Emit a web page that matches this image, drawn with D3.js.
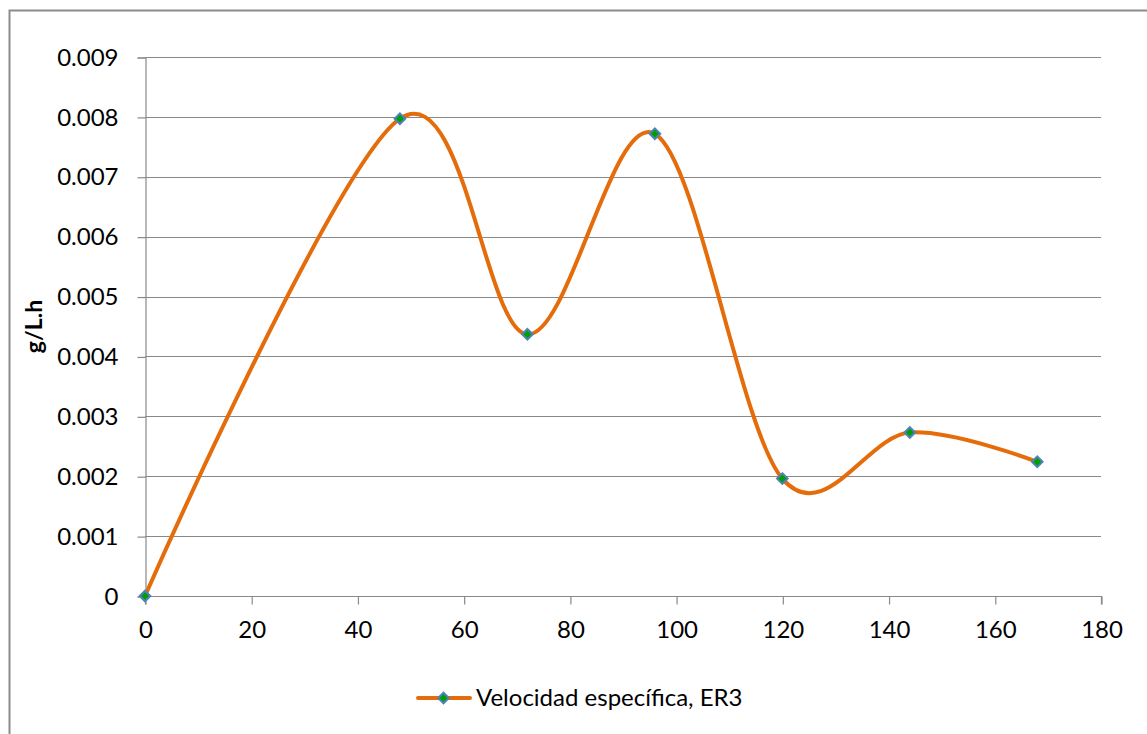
<!DOCTYPE html>
<html>
<head>
<meta charset="utf-8">
<script src="https://cdn.jsdelivr.net/npm/d3@7"></script>
<style>
  body { margin: 0; background: #fff; }
  svg { display: block; font-family: Lato, "Open Sans", sans-serif; }
</style>
</head>
<body>
<svg id="chart" width="1147" height="734"></svg>
<script>
// Time (h) and specific rate (g/L.h) for ER3
const hours = [0, 48, 72, 96, 120, 144, 168];
const rates = [0, 0.00797, 0.00437, 0.00772, 0.00196, 0.00273, 0.00224];
const xTicks = [0, 20, 40, 60, 80, 100, 120, 140, 160, 180];
const yTicks = [0, 0.001, 0.002, 0.003, 0.004, 0.005, 0.006, 0.007, 0.008, 0.009];
const seriesName = "Velocidad específica, ER3";
const yTitle = "g/L.h";

const svg = d3.select("#chart");
const plotLeft = 145, plotRight = 1101, plotTop = 57, plotBottom = 596;

const x = d3.scaleLinear().domain([0, 180]).range([plotLeft, plotRight]);
const y = d3.scaleLinear().domain([0, 0.009]).range([plotBottom, plotTop]);

const gridColor = "#898989";
const labelSize = 24;

// Outer chart frame
svg.append("rect")
  .attr("x", 9.5).attr("y", 10.5)
  .attr("width", 1160).attr("height", 760)
  .attr("fill", "none").attr("stroke", "#8c8c8c").attr("stroke-width", 2);

// Horizontal gridlines
svg.append("g").selectAll("line")
  .data(yTicks.slice(1))
  .join("line")
  .attr("x1", plotLeft).attr("x2", plotRight)
  .attr("y1", d => Math.round(y(d)) + 0.5).attr("y2", d => Math.round(y(d)) + 0.5)
  .attr("stroke", gridColor).attr("stroke-width", 1.2);

// Y axis
const yAxis = d3.axisLeft(y).tickValues(yTicks).tickSize(8).tickPadding(19)
  .tickFormat(d => d === 0 ? "0" : d3.format(".3f")(d));
const gy = svg.append("g").attr("transform", `translate(${plotLeft + 0.5},0.5)`).call(yAxis);

// X axis
const xAxis = d3.axisBottom(x).tickValues(xTicks).tickSize(8).tickPadding(16)
  .tickFormat(d3.format("d"));
const gx = svg.append("g").attr("transform", `translate(0.5,${plotBottom + 0.5})`).call(xAxis);

[gx, gy].forEach(g => {
  g.select(".domain").attr("stroke", gridColor).attr("stroke-width", 1.2);
  g.selectAll(".tick line").attr("stroke", gridColor).attr("stroke-width", 1.2);
  g.selectAll(".tick text").attr("fill", "#000").attr("font-size", labelSize)
    .attr("font-family", "Lato, 'Open Sans', sans-serif");
});
gx.select(".domain").attr("d", `M${plotLeft},8V0H${plotRight}V8`);

// Y axis title
svg.append("text")
  .attr("transform", `translate(42,${(plotTop + plotBottom) / 2}) rotate(-90)`)
  .attr("text-anchor", "middle")
  .attr("font-size", 23).attr("font-weight", "bold")
  .text(yTitle);

// Smoothed series line
const pts = hours.map((h, i) => [h, rates[i]]);
const line = d3.line()
  .x(d => x(d[0])).y(d => y(d[1]))
  .curve(d3.curveCardinal.tension(0));

const lineColor = "#e46c0a";
svg.append("path")
  .datum(pts)
  .attr("d", line)
  .attr("fill", "none")
  .attr("stroke", lineColor)
  .attr("stroke-width", 4)
  .attr("stroke-linejoin", "round");

// Diamond markers
const diamond = d3.symbol().type(d3.symbolDiamond2).size(72);
svg.append("g").selectAll("path")
  .data(pts)
  .join("path")
  .attr("transform", d => `translate(${x(d[0])},${y(d[1])})`)
  .attr("d", diamond)
  .attr("fill", "#00a000")
  .attr("stroke", "#4f81bd")
  .attr("stroke-width", 2);

// Legend
const ly = 698;
const lg = svg.append("g");
lg.append("line")
  .attr("x1", 418).attr("x2", 470).attr("y1", ly).attr("y2", ly)
  .attr("stroke", lineColor).attr("stroke-width", 4).attr("stroke-linecap", "round");
lg.append("path")
  .attr("transform", `translate(443.5,${ly})`)
  .attr("d", diamond)
  .attr("fill", "#00a000").attr("stroke", "#4f81bd").attr("stroke-width", 2);
lg.append("text")
  .attr("x", 476).attr("y", ly).attr("dy", "0.35em")
  .attr("font-size", labelSize)
  .text(seriesName);
</script>
</body>
</html>
